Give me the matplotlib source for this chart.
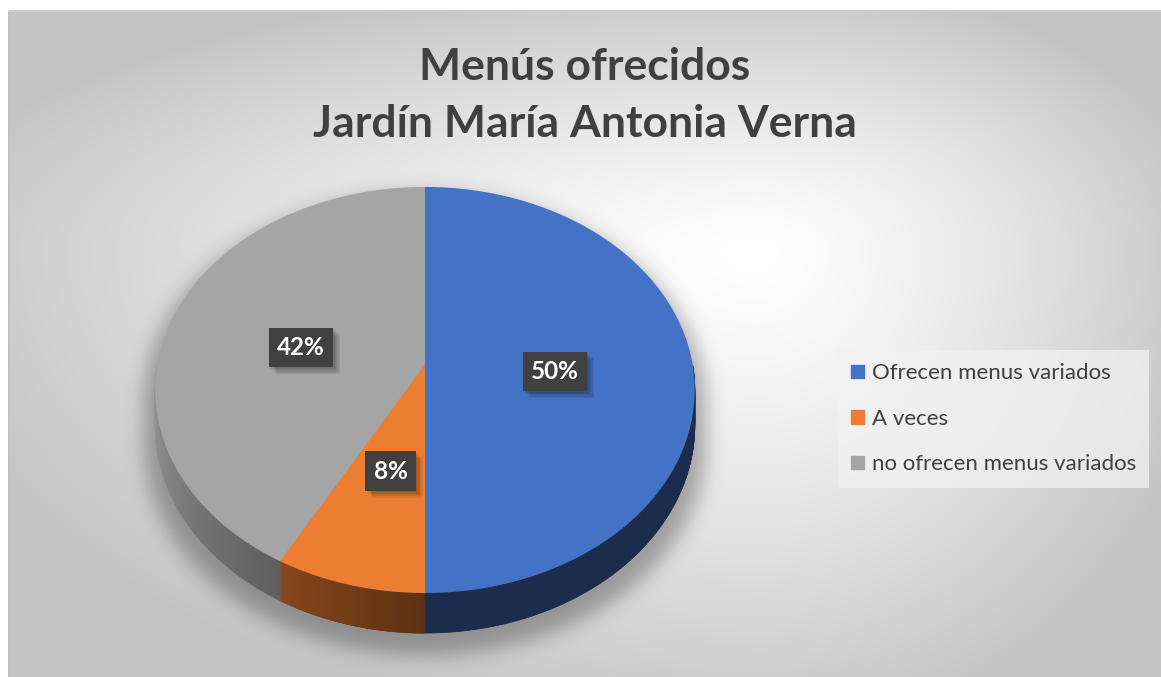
import matplotlib.pyplot as plt
import matplotlib.patheffects as pe
import matplotlib.patches as mpatches
from matplotlib.collections import PolyCollection
from matplotlib.colors import to_rgb
from matplotlib.path import Path
from matplotlib.transforms import Transform, Affine2D
import numpy as np

plt.rcParams['font.family'] = ['Lato', 'DejaVu Sans']

# datos
categorias = ['Ofrecen menus variados', 'A veces', 'no ofrecen menus variados']
porcentajes = [50, 8, 42]
colores = ['#4472C4', '#ED7D31', '#A5A5A5']
titulo_1 = 'Menús ofrecidos'
titulo_2 = 'Jardín María Antonia Verna'

W, H = 1161, 677
fig = plt.figure(figsize=(W / 100, H / 100), dpi=100)


# perspectiva simple: lo de adelante (y < 0) se ve mas grande
class Perspectiva(Transform):
    input_dims = output_dims = 2

    def __init__(self, k):
        super().__init__()
        self.k = k

    def transform_non_affine(self, values):
        v = np.asarray(values, dtype=float).reshape(-1, 2)
        s = 1.0 / (1.0 + self.k * v[:, 1])
        return v * s[:, None]

    def transform_path_non_affine(self, path):
        esc = Affine2D().scale(500)
        polys = path.to_polygons(transform=esc, closed_only=True)
        verts = np.concatenate(polys) / 500
        return Path(self.transform_non_affine(verts))


persp = Perspectiva(0.126)

# geometria del pastel en pixeles (centro, radios, espesor al frente)
pcx, pcy, prx, pry, prof_px = 425, 364.4, 267.6, 199.8, 40

# fondo con degradado radial gris
yy, xx = np.mgrid[0:H, 0:W] + 0.5
cx, cy = 760, 250
left, top = 9, 11
nx = np.where(xx < cx, (cx - xx) / (cx - left), (xx - cx) / (W - cx))
ny = np.where(yy < cy, (cy - yy) / (cy - top), (yy - cy) / (H - cy))
d = np.clip(np.hypot(nx, ny) / 1.15, 0, 1)
bg = 1.0 - (1.0 - 0.77) * d ** 1.3

# sombra difusa bajo el pastel
u = (xx - 425) / (270 * 1.04)
h = 203 * 1.04 * np.sqrt(np.clip(1 - u ** 2, 0, None))
sombra = ((np.abs(u) <= 1) & (yy >= 404 - h) & (yy <= 404 + prof_px + h)).astype(float)
sig = 10
k = np.exp(-0.5 * (np.arange(-35, 36) / sig) ** 2)
k /= k.sum()
sombra = np.apply_along_axis(lambda r: np.convolve(r, k, mode='same'), 1, sombra)
sombra = np.apply_along_axis(lambda c: np.convolve(c, k, mode='same'), 0, sombra)
bg = bg * (1 - 0.3 * sombra)

# borde del area del grafico
bg[:top, :] = 1.0
bg[:, :left] = 1.0
bg[top - 1:top + 1, left:] = 0.80
bg[top:, left - 1:left + 1] = 0.76

bg_ax = fig.add_axes([0, 0, 1, 1])
bg_ax.imshow(np.dstack([bg] * 3), extent=(0, W, H, 0), interpolation='bilinear', aspect='auto')
bg_ax.axis('off')

# pastel (cara superior)
x0, x1, y0, y1 = -1.1, 1.1, -1.5, 1.0
ax_w = (x1 - x0) * prx
ax_h = (y1 - y0) * pry
ax_left = pcx + x0 * prx
ax_top = pcy - y1 * pry
ax = fig.add_axes([ax_left / W, (H - ax_top - ax_h) / H, ax_w / W, ax_h / H])
wedges, _ = ax.pie(porcentajes, colors=colores, startangle=90, counterclock=False,
                   wedgeprops=dict(linewidth=0, zorder=3))
for w in wedges:
    w.set_transform(persp + ax.transData)
ax.set_aspect('auto')
ax.set_xlim(x0, x1)
ax.set_ylim(y0, y1)
ax.axis('off')

# paredes laterales visibles
prof = prof_px / pry * (1 - persp.k)
polys, cols = [], []
for w, c in zip(wedges, colores):
    t = np.deg2rad(np.linspace(w.theta1, w.theta2, 300))
    base = np.array(to_rgb(c))
    for a, b in zip(t[:-1], t[1:]):
        if np.sin(a) > 1e-9 or np.sin(b) > 1e-9:
            continue
        sup = persp.transform([(np.cos(a), np.sin(a)), (np.cos(b), np.sin(b))])
        s = 1.0 / (1.0 + persp.k * np.array([np.sin(a), np.sin(b)]))
        polys.append([sup[0], sup[1], (sup[1, 0], sup[1, 1] - prof * s[1]),
                      (sup[0, 0], sup[0, 1] - prof * s[0])])
        th = np.rad2deg((a + b) / 2) % 360
        phi = max(270 - th, 0)
        f = min(0.39 + 0.0062 * phi, 0.95)
        cols.append(base * f)
ax.add_collection(PolyCollection(polys, facecolors=cols, edgecolors=cols, linewidths=0.6, zorder=2))

# etiquetas de porcentaje
sombras = [pe.SimplePatchShadow(offset=(o, -o), shadow_rgbFace='black', alpha=0.07)
           for o in (1, 2, 3, 4, 5)]
for w, p in zip(wedges, porcentajes):
    mid = np.deg2rad((w.theta1 + w.theta2) / 2)
    tx, ty = persp.transform([(0.485 * np.cos(mid), 0.485 * np.sin(mid))])[0]
    txt = ax.text(tx, ty - 7 / pry, f'{p}%', ha='center', va='center', color='white',
                  fontsize=17.5, fontweight='bold', zorder=6,
                  bbox=dict(boxstyle='square,pad=0.34', fc='#404040', ec='none'))
    txt.get_bbox_patch().set_path_effects(sombras + [pe.Normal()])

# leyenda
handles = [mpatches.Patch(color=c) for c in colores]
leg = fig.legend(handles, categorias, loc='upper left', bbox_to_anchor=(838 / W, 1 - 350 / H),
                 fontsize=16, frameon=True, fancybox=False, handlelength=0.55, handleheight=0.55,
                 handletextpad=0.36, labelspacing=1.15, borderpad=0.6, borderaxespad=0)
leg.get_frame().set(facecolor='#f2f2f2', edgecolor='none', alpha=0.75)
for t in leg.get_texts():
    t.set_color('#404040')

# titulo
fig.text(585 / W, 1 - 80 / H, titulo_1, ha='center', va='baseline', fontsize=32,
         fontweight='bold', color='#404040')
fig.text(585 / W, 1 - 137 / H, titulo_2, ha='center', va='baseline', fontsize=32,
         fontweight='bold', color='#404040')

fig.savefig('out.png', dpi=100)
plt.close()
